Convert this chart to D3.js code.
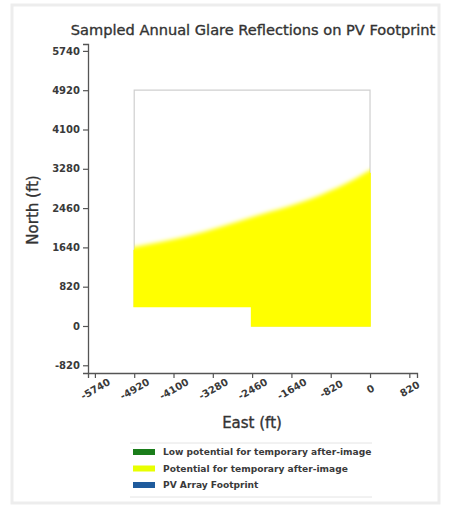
<!DOCTYPE html>
<html>
<head>
<meta charset="utf-8">
<script src="https://cdn.jsdelivr.net/npm/d3@7"></script>
<style>
  html, body { margin: 0; padding: 0; background: #fff; }
  svg { display: block; font-family: "DejaVu Sans", sans-serif; }
</style>
</head>
<body>
<svg id="chart" width="450" height="512"></svg>
<script>
// Tick values (ft)
const xTicks = [-5740, -4920, -4100, -3280, -2460, -1640, -820, 0, 820];
const yTicks = [-820, 0, 820, 1640, 2460, 3280, 4100, 4920, 5740];

// PV array footprint outline (East, North in ft)
const footprintEast  = [-4920, 0, 0, -2470, -2470, -4920];
const footprintNorth = [4920, 4920, 0, 0, 410, 410];

// Upper edge of the sampled glare reflections (East, North in ft)
const glareEdgeEast  = [-4920, -3820, -2440, -1040, -350, 0];
const glareEdgeNorth = [1650, 1870, 2280, 2730, 3050, 3250];

// Legend entries
const legendLabels = [
  "Low potential for temporary after-image",
  "Potential for temporary after-image",
  "PV Array Footprint"
];
const legendColors = ["#1a7d1a", "#e8ff00", "#1f5b9c"];

const svg = d3.select("#chart");

// Figure frame
svg.append("rect")
  .attr("x", 12).attr("y", 5).attr("width", 427).attr("height", 498)
  .attr("fill", "none").attr("stroke", "#ededed").attr("stroke-width", 3);

const x = d3.scaleLinear().domain([-5884, 980]).range([88, 417]);
const y = d3.scaleLinear().domain([-981, 5884]).range([373, 44]);

const defs = svg.append("defs");
defs.append("filter").attr("id", "soft")
  .attr("x", "-10%").attr("y", "-10%").attr("width", "120%").attr("height", "120%")
  .append("feGaussianBlur").attr("stdDeviation", 2.2);

const footprint = footprintEast.map((e, i) => [e, footprintNorth[i]]);
const line = d3.line().x(d => x(d[0])).y(d => y(d[1]));
const footprintPath = line(footprint) + "Z";

defs.append("clipPath").attr("id", "fpClip")
  .append("path").attr("d", footprintPath);

// Glare region: below the edge curve, clipped to the footprint
const edge = glareEdgeEast.map((e, i) => [e, glareEdgeNorth[i]]);
const area = d3.area()
  .x(d => x(d[0]))
  .y0(y(-500))
  .y1(d => y(d[1]))
  .curve(d3.curveMonotoneX);
const glareData = [[-5100, 1620], ...edge, [200, 3330]];

defs.append("clipPath").attr("id", "glareClip")
  .append("path").attr("d", area(glareData.map(d => [d[0], d[1] - 60])));

// Footprint outline
svg.append("path")
  .attr("d", footprintPath)
  .attr("fill", "none")
  .attr("stroke", "#cfcfcf")
  .attr("stroke-width", 1.2);

svg.append("g").attr("clip-path", "url(#fpClip)")
  .append("path")
  .datum(glareData)
  .attr("d", area)
  .attr("fill", "#ffff00")
  .attr("filter", "url(#soft)");

// Where reflections reach the footprint edge, the edge reads as yellow
svg.append("path")
  .attr("d", footprintPath)
  .attr("clip-path", "url(#glareClip)")
  .attr("fill", "none")
  .attr("stroke", "#ffff00")
  .attr("stroke-width", 1.6);

// Axes
const axisColor = "#555";
const fmt = d => String(d);
const yAxis = svg.append("g").attr("transform", "translate(88,0)")
  .call(d3.axisLeft(y).tickValues(yTicks).tickSize(5).tickPadding(3).tickFormat(fmt));
const xAxis = svg.append("g").attr("transform", "translate(0,373)")
  .call(d3.axisBottom(x).tickValues(xTicks).tickSize(5).tickPadding(3).tickFormat(fmt));

[xAxis, yAxis].forEach(g => {
  g.select(".domain").attr("stroke", axisColor).attr("stroke-width", 1.3);
  g.selectAll(".tick line").attr("stroke", axisColor).attr("stroke-width", 1.2);
  g.selectAll("text")
    .attr("fill", "#3a3a3a")
    .style("font-family", "DejaVu Sans")
    .style("font-size", "10px")
    .style("font-weight", "bold");
});

xAxis.selectAll(".tick text")
  .attr("text-anchor", "middle")
  .attr("dy", "0.35em")
  .attr("y", 0)
  .attr("transform", "translate(0,16) rotate(-30)");

// Title and axis labels
svg.append("text")
  .attr("x", 253).attr("y", 35)
  .attr("text-anchor", "middle")
  .attr("fill", "#333")
  .attr("stroke", "#333").attr("stroke-width", 0.35)
  .style("font-size", "14.6px")
  .text("Sampled Annual Glare Reflections on PV Footprint");

svg.append("text")
  .attr("x", 252).attr("y", 428)
  .attr("text-anchor", "middle")
  .attr("fill", "#333")
  .attr("stroke", "#333").attr("stroke-width", 0.35)
  .style("font-size", "15px")
  .text("East (ft)");

svg.append("text")
  .attr("transform", "translate(38,210) rotate(-90)")
  .attr("text-anchor", "middle")
  .attr("fill", "#333")
  .attr("stroke", "#333").attr("stroke-width", 0.35)
  .style("font-size", "15px")
  .text("North (ft)");

// Legend
const legend = svg.append("g");
legend.append("line").attr("x1", 130).attr("x2", 372).attr("y1", 443).attr("y2", 443)
  .attr("stroke", "#e4e4e4");
legend.append("line").attr("x1", 130).attr("x2", 372).attr("y1", 497).attr("y2", 497)
  .attr("stroke", "#e4e4e4");

const items = legend.selectAll("g.item")
  .data(legendLabels)
  .join("g")
  .attr("class", "item")
  .attr("transform", (d, i) => `translate(0,${452 + i * 16.5})`);

items.append("rect")
  .attr("x", 133).attr("y", -3).attr("width", 22).attr("height", 6)
  .attr("fill", (d, i) => legendColors[i]);

items.append("text")
  .attr("x", 163).attr("y", 0).attr("dy", "0.35em")
  .attr("fill", "#3a3a3a")
  .style("font-size", "9.1px")
  .style("font-weight", "bold")
  .text(d => d);
</script>
</body>
</html>
